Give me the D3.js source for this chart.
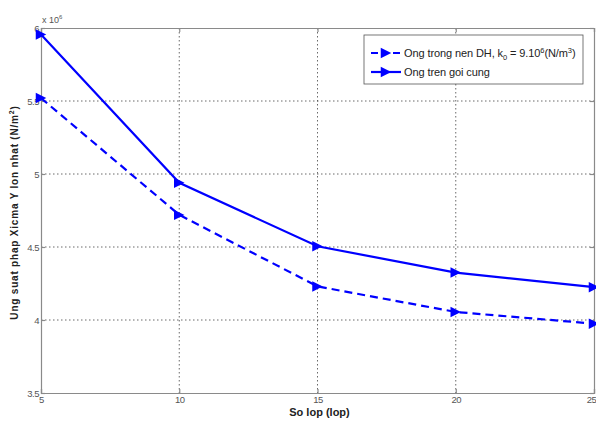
<!DOCTYPE html>
<html>
<head>
<meta charset="utf-8">
<script src="https://cdn.jsdelivr.net/npm/d3@7"></script>
<style>
  body { margin: 0; background: #fff; }
  svg { display: block; font-family: "Liberation Sans", Arial, sans-serif; }
</style>
</head>
<body>
<svg id="chart" width="596" height="421"></svg>
<script>
// Number of layers (x) and peak normal stress (×10^6 N/m²)
const layers = [5, 10, 15, 20, 25];
const stressEmbedded = [5.52, 4.72, 4.23, 4.055, 3.975];
const stressRigid = [5.955, 4.94, 4.505, 4.325, 4.225];
const xTicks = [5, 10, 15, 20, 25];
const yTicks = [3.5, 4, 4.5, 5, 5.5, 6];

const svg = d3.select("#chart");
const plotL = 41, plotR = 594, plotT = 28, plotB = 393;

const x = d3.scaleLinear().domain([5, 25]).range([plotL, plotR]);
const y = d3.scaleLinear().domain([3.5, 6]).range([plotB, plotT]);

// grid
const grid = svg.append("g");
grid.selectAll("line.gx").data(xTicks.slice(1, -1)).join("line")
  .attr("x1", d => x(d)).attr("x2", d => x(d))
  .attr("y1", plotT).attr("y2", plotB)
  .attr("stroke", "#444").attr("stroke-width", 0.8).attr("stroke-dasharray", "1.5,2.5");
grid.selectAll("line.gy").data(yTicks.slice(1, -1)).join("line")
  .attr("x1", plotL).attr("x2", plotR)
  .attr("y1", d => y(d)).attr("y2", d => y(d))
  .attr("stroke", "#444").attr("stroke-width", 0.8).attr("stroke-dasharray", "1.5,2.5");

// axes
const axisColor = "#8a8a8a";
const xa = svg.append("g").attr("transform", `translate(0,${plotB})`)
  .call(d3.axisBottom(x).tickValues(xTicks).tickSize(-4).tickPadding(3).tickFormat(d3.format("d")));
xa.selectAll(".tick text").filter(d => d === 25).attr("dx", "-3");
svg.append("g").attr("transform", `translate(${plotL},0)`)
  .call(d3.axisLeft(y).tickValues(yTicks).tickSize(-4).tickPadding(2).tickFormat(d => d));
svg.append("g").attr("transform", `translate(0,${plotT})`)
  .call(d3.axisTop(x).tickValues(xTicks).tickSize(-4).tickFormat(""));
svg.append("g").attr("transform", `translate(${plotR},0)`)
  .call(d3.axisRight(y).tickValues(yTicks).tickSize(-4).tickFormat(""));
svg.selectAll(".domain, .tick line").attr("stroke", axisColor).attr("stroke-width", 1.2);
svg.selectAll(".tick text").attr("fill", "#555").style("font-size", "9.5px")
  .style("letter-spacing", "-0.5px");

// exponent
const ex = svg.append("text").attr("x", plotL + 1).attr("y", plotT - 5)
  .attr("fill", "#555").style("font-size", "9px");
ex.append("tspan").text("x 10");
ex.append("tspan").attr("dy", -4).style("font-size", "6px").text("6");

// axis labels
svg.append("text").attr("x", (plotL + plotR) / 2 + 2).attr("y", 416)
  .attr("text-anchor", "middle").style("font-size", "11px").style("font-weight", "bold")
  .attr("fill", "#222").text("So lop (lop)");
const yl = svg.append("text")
  .attr("transform", `translate(18,${(plotT + plotB) / 2 + 2}) rotate(-90)`)
  .attr("text-anchor", "middle").style("font-size", "10px").style("font-weight", "bold")
  .style("letter-spacing", "0.8px").attr("fill", "#222");
yl.append("tspan").text("Ung suat phap Xicma Y lon nhat (N/m");
yl.append("tspan").attr("dy", -4).style("font-size", "7px").text("2");
yl.append("tspan").attr("dy", 4).text(")");

// series
const blue = "#0000ff";
const tri = d3.symbol().type({
  draw(ctx, size) {
    const r = Math.sqrt(size) / 2;
    ctx.moveTo(r, 0); ctx.lineTo(-r, -r); ctx.lineTo(-r, r); ctx.closePath();
  }
}).size(110);
const line = d3.line().x((d, i) => x(layers[i])).y(d => y(d));

function drawSeries(vals, dash) {
  svg.append("path").datum(vals).attr("d", line)
    .attr("fill", "none").attr("stroke", blue).attr("stroke-width", 2.2)
    .attr("stroke-dasharray", dash);
  svg.append("g").selectAll("path").data(vals).join("path")
    .attr("transform", (d, i) => `translate(${x(layers[i])},${y(d)})`)
    .attr("d", tri).attr("fill", blue);
}
drawSeries(stressEmbedded, "8,5");
drawSeries(stressRigid, null);

// legend
const lg = svg.append("g");
lg.append("rect").attr("x", 364).attr("y", 35).attr("width", 219).attr("height", 49)
  .attr("fill", "#fff").attr("stroke", "#555").attr("stroke-width", 0.8);
const entries = [{ dash: "7,4", y: 53 }, { dash: null, y: 72 }];
entries.forEach(e => {
  lg.append("line").attr("x1", 371).attr("x2", 401).attr("y1", e.y).attr("y2", e.y)
    .attr("stroke", blue).attr("stroke-width", 2.2).attr("stroke-dasharray", e.dash);
  lg.append("path").attr("transform", `translate(386,${e.y})`).attr("d", tri).attr("fill", blue);
});
const t1 = lg.append("text").attr("x", 404).attr("y", 57).style("font-size", "11px")
  .style("letter-spacing", "-0.1px").attr("fill", "#222");
t1.append("tspan").text("Ong trong nen DH, k");
t1.append("tspan").attr("dy", 3).style("font-size", "7.5px").text("0");
t1.append("tspan").attr("dy", -3).text(" = 9.10");
t1.append("tspan").attr("dy", -4).style("font-size", "7.5px").text("6");
t1.append("tspan").attr("dy", 4).text("(N/m");
t1.append("tspan").attr("dy", -4).style("font-size", "7.5px").text("3");
t1.append("tspan").attr("dy", 4).text(")");
lg.append("text").attr("x", 404).attr("y", 76).style("font-size", "11px")
  .style("letter-spacing", "-0.1px").attr("fill", "#222").text("Ong tren goi cung");
</script>
</body>
</html>
